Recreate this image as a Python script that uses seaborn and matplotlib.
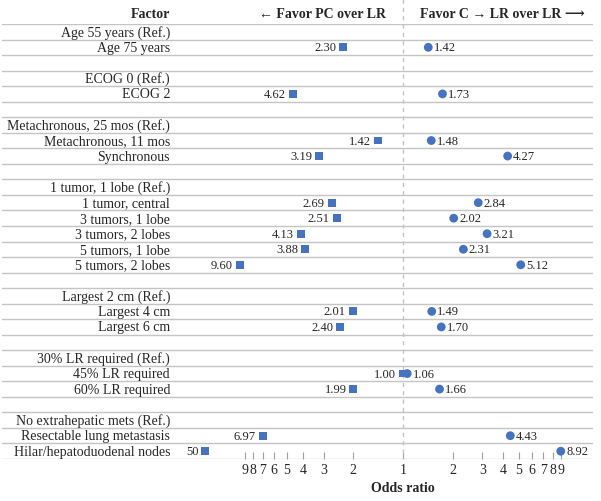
import numpy as np
import pandas as pd
import seaborn as sns
import matplotlib.pyplot as plt

# Rows of the table (top to bottom), blank strings are spacer rows
factors = ["Age 55 years (Ref.)", "Age 75 years", "",
           "ECOG 0 (Ref.)", "ECOG 2", "",
           "Metachronous, 25 mos (Ref.)", "Metachronous, 11 mos", "Synchronous", "",
           "1 tumor, 1 lobe (Ref.)", "1 tumor, central", "3 tumors, 1 lobe",
           "3 tumors, 2 lobes", "5 tumors, 1 lobe", "5 tumors, 2 lobes", "",
           "Largest 2 cm (Ref.)", "Largest 4 cm", "Largest 6 cm", "",
           "30% LR required (Ref.)", "45% LR required", "60% LR required", "",
           "No extrahepatic mets (Ref.)", "Resectable lung metastasis",
           "Hilar/hepatoduodenal nodes"]

# Odds ratios (None = reference / spacer row)
or_pc = [None, 2.30, None, None, 4.62, None, None, 1.42, 3.19, None,
         None, 2.69, 2.51, 4.13, 3.88, 9.60, None, None, 2.01, 2.40, None,
         None, 1.00, 1.99, None, None, 6.97, 50]
or_c = [None, 1.42, None, None, 1.73, None, None, 1.48, 4.27, None,
        None, 2.84, 2.02, 3.21, 2.31, 5.12, None, None, 1.49, 1.70, None,
        None, 1.06, 1.66, None, None, 4.43, 8.92]

tick_vals = [2, 3, 4, 5, 6, 7, 8, 9]
display_cap = 15.5   # off-scale values are drawn at the edge

blue = "#4472C4"
grid_col = "#c4c4c4"

sns.set_theme(style="white")
plt.rcParams['font.family'] = ['Liberation Serif', 'DejaVu Serif', 'DejaVu Sans']

n = len(factors)
rows = np.arange(n) + 0.5
df = pd.DataFrame({"factor": factors, "row": rows, "or_pc": or_pc, "or_c": or_c})
df["pc_pos"] = -np.log10(df["or_pc"].astype(float).clip(upper=display_cap))
df["c_pos"] = np.log10(df["or_c"].astype(float).clip(upper=display_cap))

fig = plt.figure(figsize=(6.01, 5.02), dpi=100)
W, H = 601, 502
ax = fig.add_axes([2 / W, 42 / H, 591 / W, 435 / H])

scale = 166.0  # px per decade
center = 403.0
ax.set_xlim((2 - center) / scale, (593 - center) / scale)
ax.set_ylim(n, 0)

# row separator lines
for y in range(n + 1):
    ax.axhline(y, color=grid_col, lw=1, zorder=1)
ax.plot([0, 0], [-25 / 15.54, n], color=grid_col, lw=1, ls=(0, (3, 3)),
        clip_on=False, zorder=1)

sns.scatterplot(data=df.dropna(subset=["pc_pos"]), x="pc_pos", y="row", marker="s",
                s=32, color=blue, edgecolor="none", ax=ax, zorder=3, legend=False)
sns.scatterplot(data=df.dropna(subset=["c_pos"]), x="c_pos", y="row", marker="o",
                s=40, color=blue, edgecolor="none", ax=ax, zorder=3, legend=False)


def fmt(v):
    return f"{v:g}" if v >= 10 else f"{v:.2f}"


ytr = ax.get_yaxis_transform()
for _, r in df.iterrows():
    if r["factor"]:
        ax.text(0.2843, r["row"], r["factor"], transform=ytr, ha="right",
                va="center", fontsize=10)
    if pd.notna(r["or_pc"]):
        ax.annotate(fmt(r["or_pc"]), (r["pc_pos"], r["row"]), xytext=(-5, 0),
                    textcoords="offset points", ha="right", va="center", fontsize=9)
    if pd.notna(r["or_c"]):
        ax.annotate(fmt(r["or_c"]), (r["c_pos"], r["row"]), xytext=(4, 0),
                    textcoords="offset points", ha="left", va="center", fontsize=9)

# headers
hy = -11 / 15.54
ax.text(0.2843, hy, "Factor", transform=ytr, ha="right", va="center",
        fontsize=10, fontweight="bold")
ax.text(-17 / scale, hy, "\u2190 Favor PC over LR", ha="right", va="center",
        fontsize=10, fontweight="bold", clip_on=False)
ax.text(17 / scale, hy, "Favor C \u2192 LR over LR \u27f6", ha="left", va="center",
        fontsize=10, fontweight="bold", clip_on=False)

# log-style ticks mirrored around 1
ticks = [-np.log10(v) for v in tick_vals[::-1]] + [0] + [np.log10(v) for v in tick_vals]
labels = [str(v) for v in tick_vals[::-1]] + ["1"] + [str(v) for v in tick_vals]
ax.set_xticks(ticks)
ax.set_xticklabels(labels, fontsize=10)
ax.set_yticks([])
ax.tick_params(axis="x", direction="in", length=5, width=0.8, color="#a0a0a0",
               pad=3, bottom=True)
for s in ax.spines.values():
    s.set_visible(False)
ax.set_xlabel("")
ax.set_ylabel("")
ax.text(0, n + 1.85, "Odds ratio", ha="center", va="center", fontsize=10,
        fontweight="bold", clip_on=False)

fig.savefig("out.png", dpi=100)
